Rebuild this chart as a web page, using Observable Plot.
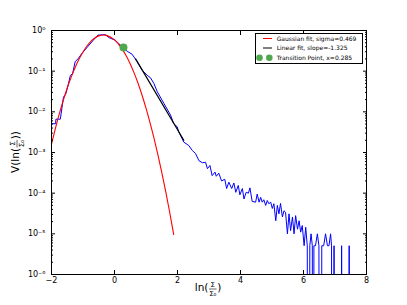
<!DOCTYPE html>
<html><head><meta charset="utf-8">
<script src="https://cdn.jsdelivr.net/npm/d3@7"></script>
<script src="https://cdn.jsdelivr.net/npm/@observablehq/plot@0.6"></script>
<style>
html,body{margin:0;padding:0;background:#fff}
#chart svg{font-family:"DejaVu Sans",sans-serif;display:block}
</style>
</head><body><div id="chart"></div>
<script>
// ---- data ----
const blueX = [-2.00,-1.87,-1.86,-1.72,-1.62,-1.55,-1.46,-1.40,-1.33,-1.25,-1.14,-1.04,-0.85,-0.67,-0.53,-0.40,-0.30,-0.16,0.02,0.13,0.28,0.40,0.56,0.72,0.88,1.04,1.14,1.25,1.36,1.57,1.78,1.88,1.99,2.04,2.20,2.36,2.47,2.57,2.68,2.79,2.89,2.95,3.03,3.10,3.19,3.23,3.31,3.40,3.50,3.56,3.63,3.72,3.79,3.85,3.93,3.98,4.06,4.11,4.18,4.25,4.30,4.37,4.48,4.53,4.59,4.64,4.69,4.74,4.80,4.85,4.90,4.96,5.01,5.06,5.12,5.17,5.22,5.27,5.33,5.38,5.43,5.49,5.54,5.59,5.65,5.70,5.75,5.81,5.86,5.91,5.96,6.02,6.07,6.12,6.16,6.20,6.24,6.28,6.31,6.33,6.38,6.44,6.49,6.53,6.58,6.64,6.70,6.76,6.81,6.86,6.89,6.93,6.97,7.01,7.17,7.21,7.25,7.41,7.45,7.49];
const blueV = [5.1e-3,5.1e-3,6.6e-3,6.6e-3,2.3e-2,2.7e-2,5.0e-2,7.9e-2,8.7e-2,0.17,0.21,0.27,0.40,0.58,0.77,0.78,0.79,0.66,0.58,0.48,0.38,0.31,0.26,0.17,0.105,0.079,0.069,0.050,0.031,0.016,8.3e-3,5.1e-3,4.3e-3,3.2e-3,1.8e-3,1.48e-3,1.12e-3,9.5e-4,6.3e-4,5.6e-4,5.75e-4,4.0e-4,4.8e-4,2.7e-4,3.3e-4,2.6e-4,3.1e-4,2.0e-4,2.2e-4,1.3e-4,1.86e-4,1.3e-4,1.78e-4,1.05e-4,1.55e-4,9.1e-5,1.3e-4,7.2e-5,1.05e-4,1.0e-4,1.35e-4,6.3e-5,6.0e-5,9.5e-5,6.0e-5,7.9e-5,6.0e-5,6.9e-5,5.0e-5,6.6e-5,5.5e-5,6.0e-5,4.2e-5,5.5e-5,2.1e-5,5.0e-5,3.1e-5,5.6e-5,2.6e-5,3.7e-5,3.4e-5,1.0e-5,3.1e-5,1.2e-5,2.6e-5,1.0e-5,2.8e-5,1.3e-5,2.1e-5,1.1e-5,1.6e-5,5.1e-6,1.45e-5,5.1e-6,0,5.1e-6,1.0e-5,5.1e-6,0,5.1e-6,5.1e-6,1.0e-5,5.1e-6,0,5.1e-6,5.1e-6,1.0e-5,5.1e-6,5.1e-6,1.0e-5,5.1e-6,0,5.1e-6,0,0,5.1e-6,0,0,5.1e-6,0];

const redX = [-2.00,-1.875,-1.75,-1.625,-1.50,-1.375,-1.25,-1.125,-1.00,-0.875,-0.75,-0.625,-0.50,-0.35,-0.25,0.00,0.125,0.25,0.375,0.50,0.625,0.75,0.875,1.00,1.125,1.25,1.375,1.50,1.625,1.75,1.88];
const redV = [1.6e-3,3.94e-3,9.0e-3,1.93e-2,3.85e-2,7.13e-2,0.123,0.198,0.297,0.415,0.54,0.653,0.738,0.776,0.759,0.588,0.465,0.343,0.235,0.150,0.0895,0.0497,0.0256,0.0123,5.53e-3,2.31e-3,8.98e-4,3.25e-4,1.10e-4,3.44e-5,9.6e-6];

const fitX = [0.67, 2.20];
const fitV = [0.20, 0.0020];

const transX = 0.285, transV = 0.38;

const xTicks = [-2, 0, 2, 4, 6, 8];
const yMajor = [1e-6, 1e-5, 1e-4, 1e-3, 1e-2, 1e-1, 1];
const yMinorMult = [2, 3, 4, 5, 6, 7, 8, 9];

const legendLabels = ["Gaussian fit, sigma=0.469", "Linear fit, slope=-1.325", "Transition Point, x=0.285"];
const xLabel = {pre: "ln(", post: ")"};
const yLabel = {pre: "V(ln(", post: "))"};

// ---- build tables ----
const blue = blueX.map((x, i) => ({x, v: blueV[i]}));
const red = redX.map((x, i) => ({x, v: redV[i]}));
const fit = fitX.map((x, i) => ({x, v: fitV[i]}));
const yMinor = [];
for (let e = -6; e < 0; e++) for (const m of yMinorMult) yMinor.push(m * Math.pow(10, e));

const supMap = {"-": "⁻", "0": "⁰", "1": "¹", "2": "²", "3": "³", "4": "⁴", "5": "⁵", "6": "⁶", "7": "⁷", "8": "⁸", "9": "⁹"};
const fmtY = d => "10" + String(Math.round(Math.log10(d))).split("").map(c => supMap[c]).join("");
const fmtX = d => d < 0 ? "−" + Math.abs(d) : String(d);
const blank = () => "";

const green = "#4fa84f";

const plot = Plot.plot({
  width: 407, height: 305,
  marginLeft: 51, marginRight: 41, marginTop: 30, marginBottom: 31,
  style: {fontFamily: "DejaVu Sans", fontSize: "8px", background: "white", color: "black"},
  x: {domain: [-2, 8]},
  y: {type: "log", domain: [1e-6, 1]},
  marks: [
    Plot.line(blue, {x: "x", y: d => d.v > 0 ? d.v : 1e-30, stroke: "#0000ff", strokeWidth: 1, clip: true}),
    Plot.line(red, {x: "x", y: "v", stroke: "#ff0000", strokeWidth: 1.1, curve: "catmull-rom", clip: true}),
    Plot.line(fit, {x: "x", y: "v", stroke: "black", strokeWidth: 1.2}),
    Plot.dot([{x: transX, v: transV}], {x: "x", y: "v", r: 4, fill: green, stroke: "none"}),
    Plot.frame({stroke: "black", strokeWidth: 1}),
    Plot.axisX({anchor: "bottom", ticks: xTicks, tickSize: -4, tickPadding: 7, tickFormat: fmtX, label: null, fontSize: 8}),
    Plot.axisX({anchor: "top", ticks: xTicks, tickSize: -4, tickFormat: blank, label: null}),
    Plot.axisY({anchor: "left", ticks: yMajor, tickSize: -4, tickPadding: 10, tickFormat: fmtY, label: null, fontSize: 8}),
    Plot.axisY({anchor: "right", ticks: yMajor, tickSize: -4, tickFormat: blank, label: null}),
    Plot.axisY({anchor: "left", ticks: yMinor, tickSize: -2, tickFormat: blank, label: null}),
    Plot.axisY({anchor: "right", ticks: yMinor, tickSize: -2, tickFormat: blank, label: null})
  ]
});
document.getElementById("chart").appendChild(plot);

const svg = d3.select(plot);

// fraction-style axis labels; (cx, cy) is the centre of the fraction bar line
function fracLabel(cx, cy, rot, parts) {
  const g = svg.append("g").attr("transform", `translate(${cx},${cy}) rotate(${rot})`)
    .attr("font-family", "DejaVu Sans").attr("fill", "black").attr("text-anchor", "start");
  const t1 = g.append("text").attr("text-anchor", "start").attr("font-size", 10.5).attr("y", 1.5).text(parts.pre);
  const num = g.append("text").attr("font-size", 7).attr("text-anchor", "middle").attr("y", -1.6).text("Σ");
  const den = g.append("text").attr("font-size", 7).attr("text-anchor", "middle").attr("y", 6.6).text("Σ₀");
  const t2 = g.append("text").attr("text-anchor", "start").attr("font-size", 10.5).attr("y", 1.5).text(parts.post);
  const w1 = t1.node().getComputedTextLength();
  const wf = Math.max(num.node().getComputedTextLength(), den.node().getComputedTextLength()) + 1.5;
  const w2 = t2.node().getComputedTextLength();
  const s = -(w1 + wf + w2) / 2;
  t1.attr("x", s);
  num.attr("x", s + w1 + wf / 2);
  den.attr("x", s + w1 + wf / 2);
  g.append("line").attr("x1", s + w1 + 0.6).attr("x2", s + w1 + wf - 0.6).attr("y1", 0).attr("y2", 0)
    .attr("stroke", "black").attr("stroke-width", 0.6);
  t2.attr("x", s + w1 + wf);
}
fracLabel(208, 289, 0, xLabel);
fracLabel(17, 152, -90, yLabel);

// legend
const lg = svg.append("g").attr("font-family", "DejaVu Sans").attr("font-size", 6).attr("text-anchor", "start");
lg.append("rect").attr("x", 255.5).attr("y", 33.5).attr("width", 107).attr("height", 30)
  .attr("fill", "white").attr("stroke", "black").attr("stroke-width", 1);
const rowY = [38.5, 48, 57.7];
lg.append("line").attr("x1", 263).attr("x2", 272).attr("y1", rowY[0]).attr("y2", rowY[0]).attr("stroke", "#ff0000").attr("stroke-width", 1);
lg.append("line").attr("x1", 263).attr("x2", 272).attr("y1", rowY[1]).attr("y2", rowY[1]).attr("stroke", "black").attr("stroke-width", 1);
lg.append("circle").attr("cx", 259.5).attr("cy", rowY[2]).attr("r", 3.3).attr("fill", green);
lg.append("circle").attr("cx", 269.3).attr("cy", rowY[2]).attr("r", 3.3).attr("fill", green);
legendLabels.forEach((t, i) => {
  lg.append("text").attr("text-anchor", "start").attr("x", 276.7).attr("y", rowY[i]).attr("dy", "0.35em").attr("fill", "black").text(t);
});
</script>
</body></html>
